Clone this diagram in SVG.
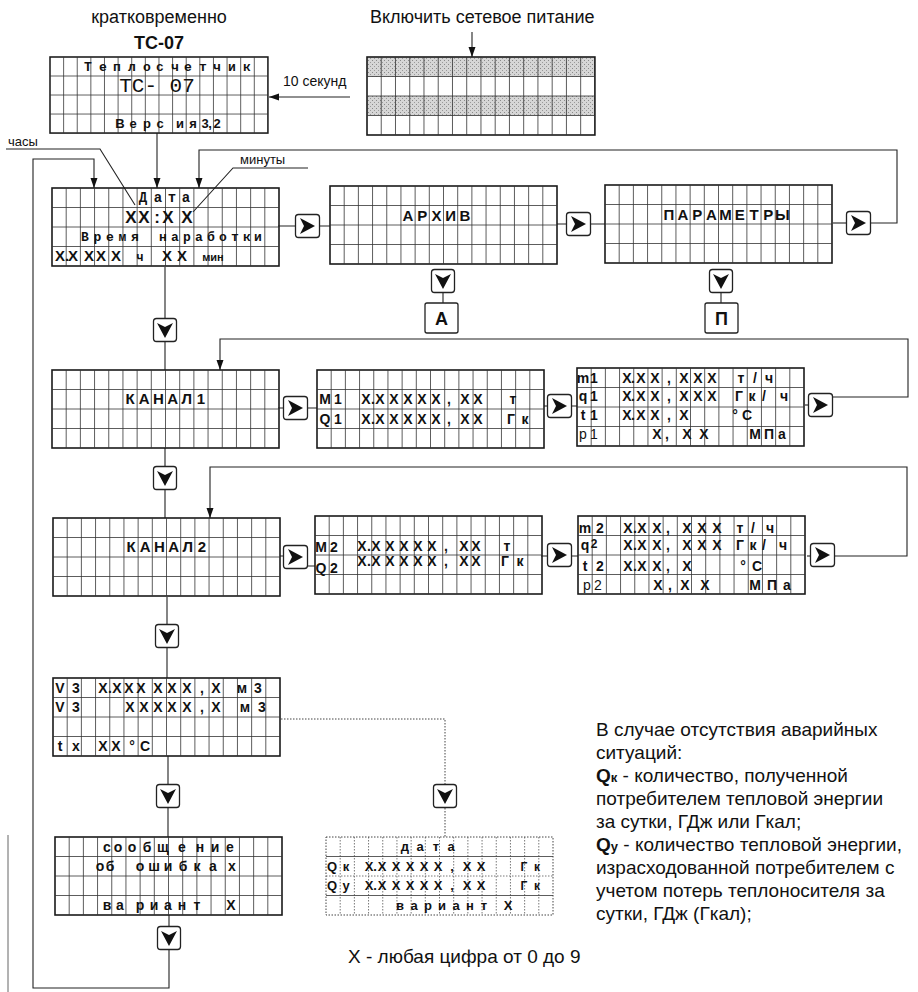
<svg xmlns="http://www.w3.org/2000/svg" width="918" height="992" viewBox="0 0 918 992">
<style>
.lbl{font-family:"Liberation Sans",Arial,sans-serif;font-size:18px;fill:#111}
.lg{font-family:"Liberation Sans",Arial,sans-serif;font-size:19px;fill:#111}
.sm{font-family:"Liberation Sans",Arial,sans-serif;font-size:13px;fill:#111}
.c{font-family:"Liberation Sans",Arial,sans-serif;font-weight:bold;font-size:14px;fill:#111;text-anchor:middle}
.m{font-family:"Liberation Mono","Courier New",monospace;font-weight:bold;font-size:14px;fill:#111;text-anchor:middle}
.ln{fill:none;stroke:#222;stroke-width:1.1}
.dl{fill:none;stroke:#444;stroke-width:1;stroke-dasharray:1.5 1.5}
</style>
<defs>
<marker id="ah" markerUnits="userSpaceOnUse" markerWidth="11" markerHeight="10" refX="10" refY="5" orient="auto"><path d="M0,1.5L10,5L0,8.5Z" fill="#111"/></marker>
<pattern id="stip" width="4" height="4" patternUnits="userSpaceOnUse"><rect width="4" height="4" fill="#d6d6d6"/><rect x="0" y="0" width="1" height="1" fill="#8a8a8a"/><rect x="2" y="2" width="1" height="1" fill="#9a9a9a"/></pattern>
<g id="grid">
<rect width="227" height="78" fill="none" stroke="#1a1a1a" stroke-width="1.6"/>
<path d="M14.19,0v78M28.38,0v78M42.56,0v78M56.75,0v78M70.94,0v78M85.13,0v78M99.31,0v78M113.5,0v78M127.69,0v78M141.88,0v78M156.06,0v78M170.25,0v78M184.44,0v78M198.63,0v78M212.81,0v78M0,19.5h227M0,39h227M0,58.5h227" stroke="#333" stroke-width="0.8" fill="none"/>
</g>
<g id="dgrid">
<rect width="227" height="78" fill="none" stroke="#444" stroke-width="1" stroke-dasharray="1.5 1.5"/>
<path d="M14.19,0v78M28.38,0v78M42.56,0v78M56.75,0v78M70.94,0v78M85.13,0v78M99.31,0v78M113.5,0v78M127.69,0v78M141.88,0v78M156.06,0v78M170.25,0v78M184.44,0v78M198.63,0v78M212.81,0v78M0,39h227" stroke="#555" stroke-width="0.8" stroke-dasharray="1.5 1.5" fill="none"/>
<path d="M0,19.5h227M0,58.5h227" stroke="#333" stroke-width="0.8" fill="none"/>
</g>
<g id="bR"><rect x="0.5" y="0.5" width="24" height="23" rx="3" fill="#fff" stroke="#222" stroke-width="1.3"/><path d="M5,4L20,12L5,20L9,12Z" fill="#111"/></g>
<g id="bV"><rect x="0.5" y="0.5" width="23" height="23" rx="3" fill="#fff" stroke="#222" stroke-width="1.3"/><path d="M4,5L12,20L20,5L12,9Z" fill="#111"/></g>
</defs>
<rect width="918" height="992" fill="#fff"/>

<g id="titles">
<text class="lbl" x="159" y="23" text-anchor="middle">кратковременно</text>
<text class="lbl" x="159" y="49" text-anchor="middle" font-weight="bold">ТС-07</text>
<text class="lbl" x="370" y="23">Включить сетевое питание</text>
<text class="sm" x="283" y="86" style="font-size:14px">10 секунд</text>
</g>

<g id="connectors">
<path class="ln" d="M472,32V57" marker-end="url(#ah)"/>
<path class="ln" d="M350,97H269" marker-end="url(#ah)"/>
<path class="ln" d="M157,133V188" marker-end="url(#ah)"/>
<path class="ln" d="M169,950V988H33V159H94V188" marker-end="url(#ah)"/>
<path class="ln" d="M871,223H897V150H199V188" marker-end="url(#ah)"/>
<path class="ln" d="M278,226H295M320,226H330"/>
<path class="ln" d="M557,224H566M591,224H605"/>
<path class="ln" d="M833,223H846"/>
<path class="ln" d="M443,293V303M721,293V303"/>
<path class="ln" d="M165,267V318M165,342V370"/>
<path class="ln" d="M278,408H283M307,408H317"/>
<path class="ln" d="M544,406H547M572,406H577"/>
<path class="ln" d="M805,405H808"/>
<path class="ln" d="M833,397H908V339H220V370" marker-end="url(#ah)"/>
<path class="ln" d="M165,448V466M165,490V518"/>
<path class="ln" d="M280,556H283M308,566H315"/>
<path class="ln" d="M541,556H547M572,556H578"/>
<path class="ln" d="M807,556H810"/>
<path class="ln" d="M835,556H907V467H210V518" marker-end="url(#ah)"/>
<path class="ln" d="M167,597V624M167,648V678"/>
<path class="ln" d="M168,756V784M168,808V837"/>
<path class="ln" d="M169,915V926"/>
<path class="dl" d="M281,719H445V784M445,808V837"/>
<path d="M8,835V992" stroke="#666" stroke-width="1" fill="none"/>
</g>

<g id="lbl-chasy"><text class="sm" x="8" y="146">часы</text><path class="ln" d="M6,149H100L135,205"/></g>
<g id="lbl-minuty"><text class="sm" x="240" y="164">минуты</text><path class="ln" d="M308,168H233L193,212"/></g>

<g id="n-tc">
<use href="#grid" transform="translate(50,57) scale(0.96,0.975)"/>
<text class="m" style="font-size:13px" x="88 103 117 132 147 160 175 188 203 217 232 247" y="71">Теплосчетчик</text>
<text x="157" y="92" style="font-family:'Liberation Mono',monospace;font-size:21px;text-anchor:middle;fill:#111">ТС- 07</text>
<text class="c" style="font-size:13px" x="120 133 147 160 180 193 205 210 217" y="128">Версия3,2</text>
</g>

<g id="n-power">
<rect x="367" y="57" width="228" height="19.5" fill="url(#stip)"/>
<rect x="367" y="96" width="228" height="19.5" fill="url(#stip)"/>
<use href="#grid" transform="translate(367,57) scale(1.004,1)"/>
</g>

<g id="n-date">
<use href="#grid" transform="translate(52,188)"/>
<text class="m" x="143 158 172 186" y="202">Дата</text>
<text class="c" style="font-size:17px" x="131 144" y="223">XX</text>
<text class="c" style="font-size:17px" x="157 168 187" y="223">:XX</text>
<text class="m" style="font-size:13px" x="85 97.5 110 122.5 135" y="241">Время</text>
<text class="m" style="font-size:13px" x="163 175 187 199 211 223 235 247 258" y="241">наработки</text>
<text class="c" style="font-size:15px" x="60 67 73 89 101 116" y="261">X.XXXX</text>
<text class="c" style="font-size:12px" x="140" y="261">ч</text>
<text class="c" style="font-size:15px" x="167 175 182" y="261">X X</text>
<text class="c" style="font-size:11px" x="213" y="261">мин</text>
</g>

<g id="n-arch">
<use href="#grid" transform="translate(330,186)"/>
<text class="c" style="font-size:15px" x="408 422.2 436.4 450.6 464.8" y="221">АРХИВ</text>
</g>

<g id="n-param">
<use href="#grid" transform="translate(605,185)"/>
<text class="c" style="font-size:15px" x="668.9 683 697.2 711.4 725.6 739.8 754 768.2 782.4" y="220">ПАРАМЕТРЫ</text>
</g>

<g id="btn-1"><use href="#bR" x="295" y="214"/></g>
<g id="btn-2"><use href="#bR" x="566" y="212"/></g>
<g id="btn-3"><use href="#bR" x="846" y="211"/></g>
<g id="btn-va"><use href="#bV" x="431" y="269"/></g>
<g id="btn-vp"><use href="#bV" x="709" y="269"/></g>
<g id="n-a"><rect x="425" y="303" width="33" height="30" rx="2" fill="#fff" stroke="#222" stroke-width="1.3"/><text class="c" style="font-size:18px" x="441.5" y="325">А</text></g>
<g id="n-p"><rect x="705" y="303" width="33" height="30" rx="2" fill="#fff" stroke="#222" stroke-width="1.3"/><text class="c" style="font-size:18px" x="721.5" y="325">П</text></g>

<g id="btn-v1"><use href="#bV" x="153" y="318"/></g>

<g id="n-k1">
<use href="#grid" transform="translate(52,370)"/>
<text class="c" style="font-size:15px" x="130 144.2 158.4 172.6 186.8 201" y="404">КАНАЛ1</text>
</g>
<g id="btn-4"><use href="#bR" x="283" y="396"/></g>
<g id="n-M1">
<use href="#grid" transform="translate(317,370)"/>
<text class="c" x="325 338" y="404">M1</text>
<text class="c" x="366 373 380 394 408 422 436 449 465 478" y="404">X.XXXXX,XX</text>
<text class="c" x="513" y="404">т</text>
<text class="c" x="325 338" y="424">Q1</text>
<text class="c" x="366 373 380 394 408 422 436 449 465 478" y="424">X.XXXXX,XX</text>
<text class="c" x="511 525" y="424">Гк</text>
</g>
<g id="btn-5"><use href="#bR" x="547" y="394"/></g>
<g id="n-m1">
<use href="#grid" transform="translate(577,368)"/>
<text class="c" x="583 594" y="383">m1</text>
<text class="c" x="627 633 641 655 669 676 684 698 712" y="383">X.XX, XXX</text>
<text class="c" x="741 755 769" y="383">т/ч</text>
<text class="c" x="583 594" y="401">q1</text>
<text class="c" x="627 633 641 655 669 676 684 698 712" y="401">X.XX, XXX</text>
<text class="c" x="739 752 764 774 784" y="401">Гк/ ч</text>
<text class="c" x="583 594" y="420">t1</text>
<text class="c" x="627 633 641 655 669 676 684" y="420">X.XX, X</text>
<text class="c" x="735 747" y="420">°C</text>
<text class="c" style="font-weight:normal" x="583 594" y="439">p1</text>
<text class="c" x="657 667 672 687 696 704" y="439">X, X X</text>
<text class="c" x="755 769 782" y="439">МПа</text>
</g>
<g id="btn-6"><use href="#bR" x="808" y="393"/></g>

<g id="btn-v2"><use href="#bV" x="153" y="466"/></g>

<g id="n-k2">
<use href="#grid" transform="translate(53,518)"/>
<text class="c" style="font-size:15px" x="131 145.2 159.4 173.6 187.8 202" y="552">КАНАЛ2</text>
</g>
<g id="btn-7"><use href="#bR" x="283" y="545"/></g>
<g id="n-M2">
<use href="#grid" transform="translate(315,516)"/>
<text class="c" x="321 334" y="552">M2</text>
<text class="c" x="362 369 376 390 404 418 432 446 464 476" y="551">X.XXXXX,XX</text>
<text class="c" x="507" y="551">т</text>
<text class="c" x="321 334" y="573">Q2</text>
<text class="c" x="362 369 376 390 404 418 432 446 464 476" y="566">X.XXXXX,XX</text>
<text class="c" x="505 520" y="566">Гк</text>
</g>
<g id="btn-8"><use href="#bR" x="547" y="543"/></g>
<g id="n-m2">
<use href="#grid" transform="translate(578,516)"/>
<text class="c" x="585 600" y="533">m2</text>
<text class="c" x="628 635 642 657 668 675 687 702 717" y="533">X.XX, XXX</text>
<text class="c" x="740 753 762 770" y="533">т/ ч</text>
<text class="c" x="585" y="550">q</text>
<text class="c" style="font-size:12px" x="594" y="548">2</text>
<text class="c" x="628 635 642 657 668 675 687 702 717" y="550">X.XX, XXX</text>
<text class="c" x="740 753 764 774 783" y="550">Гк/ ч</text>
<text class="c" x="585 592 600" y="571">t 2</text>
<text class="c" x="628 635 642 657 668 675 687" y="571">X.XX, X</text>
<text class="c" x="743 757" y="571">°C</text>
<text class="c" style="font-weight:normal" x="587 598" y="590">p2</text>
<text class="c" x="658 670 677 685 695 705" y="590">X, X X</text>
<text class="c" x="755 772 787" y="590">МПа</text>
</g>
<g id="btn-9"><use href="#bR" x="810" y="543"/></g>

<g id="btn-v3"><use href="#bV" x="155" y="624"/></g>

<g id="n-v3">
<use href="#grid" transform="translate(53,678)"/>
<text class="c" x="60 76" y="693">V3</text>
<text class="c" x="103 110 117 129 141 158 172 187 202 209 216" y="693">X.XXXXXX, X</text>
<text class="c" x="242 258" y="693">м3</text>
<text class="c" x="60 76" y="712">V3</text>
<text class="c" x="130 144 158 172 187 202 209 216" y="712">XXXXX, X</text>
<text class="c" x="245 262" y="712">м3</text>
<text class="c" x="60 76" y="751">tx</text>
<text class="c" x="103 116" y="751">XX</text>
<text class="c" x="132 145" y="751">°C</text>
</g>

<g id="btn-v4"><use href="#bV" x="156" y="784"/></g>
<g id="btn-vd"><use href="#bV" x="433" y="784"/></g>

<g id="n-err">
<use href="#grid" transform="translate(55,837)"/>
<text class="c" x="107 118 132 147 163 182 200 215 230" y="852">сообщение</text>
<text class="c" x="100 110" y="871">об</text>
<text class="c" x="140 154 168 183 197 213 232" y="871">ошибках</text>
<text class="c" x="107 120 140 154 168 182 197" y="910">вариант</text>
<text class="c" x="231" y="910">X</text>
</g>

<g id="btn-v5"><use href="#bV" x="157" y="926"/></g>

<g id="n-dot">
<use href="#dgrid" transform="translate(326,837)"/>
<text class="c" style="font-size:13px" x="405 420 436 451" y="851">дата</text>
<text class="c" style="font-size:13px" x="332 346" y="871">Qк</text>
<text class="c" style="font-size:13px" x="369 375 382 396 410 424 438 452 467 481" y="871">X.XXXXX,XX</text>
<text class="c" style="font-size:12px" x="524 537" y="871">Гк</text>
<text class="c" style="font-size:13px" x="332 346" y="890">Qу</text>
<text class="c" style="font-size:13px" x="369 375 382 396 410 424 438 452 467 481" y="890">X.XXXXX,XX</text>
<text class="c" style="font-size:12px" x="524 537" y="890">Гк</text>
<text class="c" style="font-size:13px" x="400 414 428 442 456 470 484" y="910">вариант</text>
<text class="c" style="font-size:13px" x="508" y="910">X</text>
</g>

<g id="legend">
<text class="lg" x="596" y="736">В случае отсутствия аварийных</text>
<text class="lg" x="596" y="759">ситуаций:</text>
<text class="lg" x="596" y="782"><tspan font-weight="bold">Q</tspan><tspan font-weight="bold" font-size="13">к</tspan> - количество, полученной</text>
<text class="lg" x="596" y="805">потребителем тепловой энергии</text>
<text class="lg" x="596" y="828">за сутки, ГДж или Гкал;</text>
<text class="lg" x="596" y="851"><tspan font-weight="bold">Q</tspan><tspan font-weight="bold" font-size="13">у</tspan> - количество тепловой энергии,</text>
<text class="lg" x="596" y="874">израсходованной потребителем с</text>
<text class="lg" x="596" y="897">учетом потерь теплоносителя  за</text>
<text class="lg" x="596" y="920">сутки, ГДж (Гкал);</text>
<text class="lg" x="348" y="963">X - любая цифра от 0 до 9</text>
</g>
</svg>
